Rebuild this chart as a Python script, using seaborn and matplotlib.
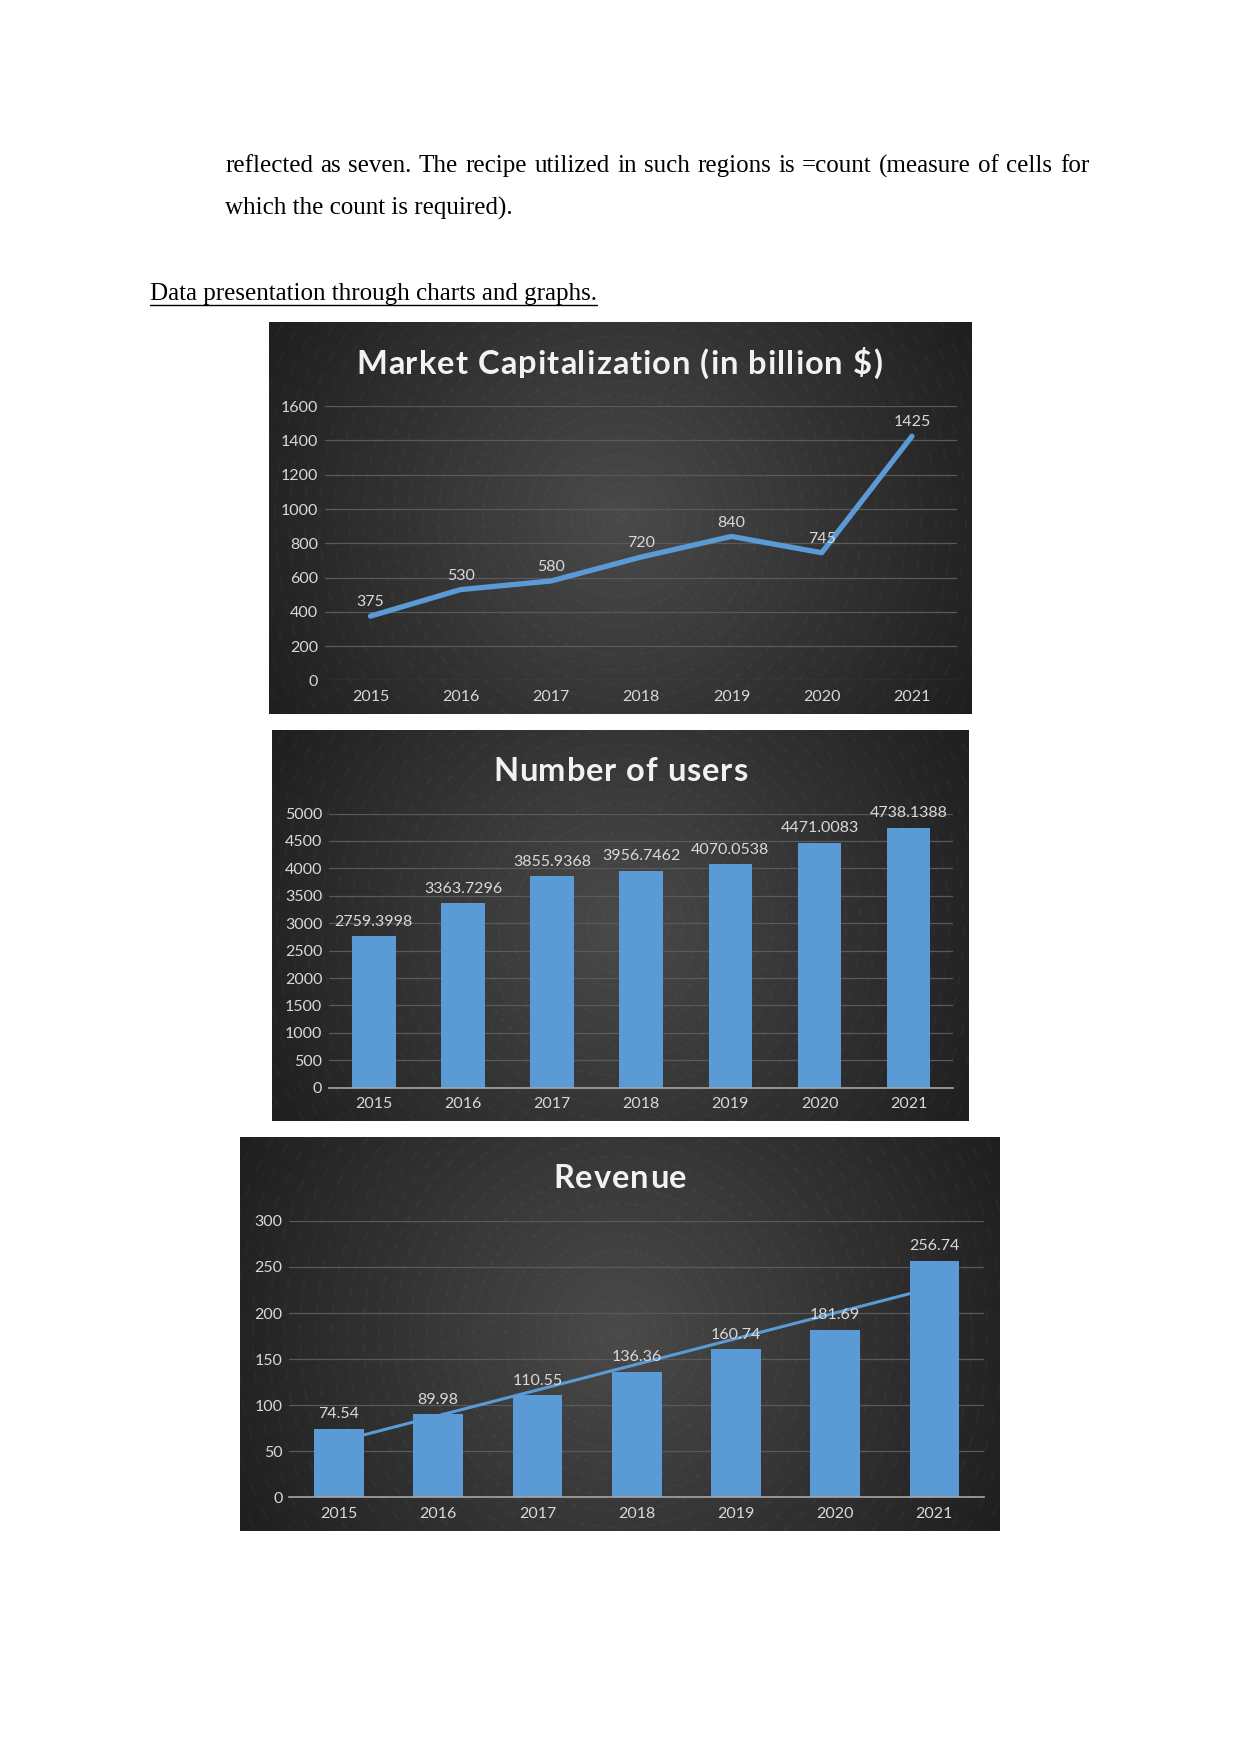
import numpy as np
import pandas as pd
import matplotlib
matplotlib.use("Agg")
import matplotlib.pyplot as plt
import seaborn as sns

# ---------------- data ----------------
years = ["2015", "2016", "2017", "2018", "2019", "2020", "2021"]
market_cap = [375, 530, 580, 720, 840, 745, 1425]
market_cap_labels = ["375", "530", "580", "720", "840", "745", "1425"]
users = [2759.3998, 3363.7296, 3855.9368, 3956.7462, 4070.0538, 4471.0083, 4738.1388]
users_labels = ["2759.3998", "3363.7296", "3855.9368", "3956.7462", "4070.0538", "4471.0083", "4738.1388"]
revenue = [74.54, 89.98, 110.55, 136.36, 160.74, 181.69, 256.74]
revenue_labels = ["74.54", "89.98", "110.55", "136.36", "160.74", "181.69", "256.74"]

titles = ["Market Capitalization (in billion $)", "Number of users", "Revenue"]
yticks_mc = [0, 200, 400, 600, 800, 1000, 1200, 1400, 1600]
yticks_users = [0, 500, 1000, 1500, 2000, 2500, 3000, 3500, 4000, 4500, 5000]
yticks_rev = [0, 50, 100, 150, 200, 250, 300]

para_line1 = "reflected as seven. The recipe utilized in such regions is =count (measure of cells for"
para_line2 = "which the count is required)."
heading = "Data presentation through charts and graphs."

# ---------------- style ----------------
sns.set_theme(style="white")
plt.rcParams['font.family'] = ['Lato', 'DejaVu Sans']

W, H = 1241, 1754
fig = plt.figure(figsize=(W / 100, H / 100), dpi=100)
fig.patch.set_facecolor("white")
renderer = fig.canvas.get_renderer()

BLUE = "#5b9bd5"
LABEL = "#d9d9d9"
GRID = "#5a5a5a"


def fx(px):
    return px / W


def fy(py):
    return 1 - py / H


def box_axes(left, top, right, bottom):
    return [fx(left), fy(bottom), fx(right - left), (bottom - top) / H]


def text_width(s, **kw):
    t = fig.text(0, 0, s, **kw)
    w = t.get_window_extent(renderer).width
    t.remove()
    return w


def justified(words_line, left, right, ypx, **kw):
    words = words_line.split(" ")
    widths = [text_width(w, **kw) for w in words]
    gap = (right - left - sum(widths)) / (len(words) - 1)
    x = left
    for w, wd in zip(words, widths):
        fig.text(fx(x), fy(ypx), w, ha="left", va="center", **kw)
        x += wd + gap


def tracked(s, cx, cy, track, **kw):
    # ink-left position of each glyph inside the full string, plus tracking
    def ink_left(i):
        return text_width("|" + s[:i + 1], **kw) - text_width(s[i], **kw)

    idx = [i for i, ch in enumerate(s) if ch != " "]
    base = ink_left(0)
    pos = {i: ink_left(i) - base + track * i for i in idx}
    last = idx[-1]
    full = pos[last] + text_width(s[last], **kw)
    x0 = cx - full / 2
    for i in idx:
        fig.text(fx(x0 + pos[i]), fy(cy), s[i], ha="left", va="center", zorder=3, **kw)


def background(rect):
    bg = fig.add_axes(rect, zorder=0)
    ny, nx = 400, 700
    yy, xx = np.mgrid[-1:1:ny * 1j, -1:1:nx * 1j]
    asp = rect[2] * W / (rect[3] * H)
    r = np.sqrt((xx * asp) ** 2 + yy ** 2) / np.sqrt(asp ** 2 + 1)
    val = 0.29 - 0.17 * r
    ang = np.arctan2(yy, xx * asp)
    rings = 0.022 * ((np.sin(r * 170) > 0.9) & (np.sin(ang * 90) > 0))
    img = np.clip(val + rings, 0, 1)
    bg.imshow(np.dstack([img, img, img]), aspect="auto", extent=[0, 1, 0, 1])
    bg.set_axis_off()
    return bg


def style_axes(ax, yticks, axis_line):
    ax.set_facecolor("none")
    ax.set_ylim(yticks[0], yticks[-1])
    ax.set_yticks(yticks)
    ax.set_yticklabels([str(t) for t in yticks])
    ax.set_xlim(-0.5, 6.5)
    ax.set_xticks(range(len(years)))
    ax.set_xticklabels(years)
    ax.set_xlabel("")
    ax.set_ylabel("")
    for s in ax.spines.values():
        s.set_visible(False)
    if axis_line:
        ax.spines["bottom"].set_visible(True)
        ax.spines["bottom"].set_color("#a6a6a6")
        ax.spines["bottom"].set_linewidth(1.2)
    ax.grid(axis="y", color=GRID, linewidth=0.9)
    ax.set_axisbelow(True)
    ax.tick_params(axis="both", length=0, colors=LABEL, labelsize=11.5)
    ax.tick_params(axis="y", pad=5)
    ax.tick_params(axis="x", pad=7)


serif = dict(family="Liberation Serif", fontsize=18, color="black")
title_kw = dict(color="#f2f2f2", fontsize=23.5, fontweight="bold")

# ---------------- text ----------------
justified(para_line1, 225, 1089, 166, **serif)
fig.text(fx(225), fy(208), para_line2, va="center", ha="left", **serif)
ht = fig.text(fx(150), fy(294), heading, va="center", ha="left", **serif)

# ---------------- chart 1: market cap line ----------------
r1 = box_axes(268.6, 322.3, 971.3, 714.0)
background(r1)
ax1 = fig.add_axes(box_axes(325.3, 406.2, 957.1, 680.4), zorder=2)
df1 = pd.DataFrame({"x": np.arange(len(years)), "y": market_cap})
sns.lineplot(data=df1, x="x", y="y", ax=ax1, color=BLUE, linewidth=3.8,
             solid_capstyle="round", solid_joinstyle="round")
style_axes(ax1, yticks_mc, False)
for i, (v, lab) in enumerate(zip(market_cap, market_cap_labels)):
    ax1.annotate(lab, (i, v), xytext=(0, 10), textcoords="offset points",
                 ha="center", va="center", color=LABEL, fontsize=11.5)
tracked(titles[0], 619, 364, 1.05, **title_kw)

# ---------------- chart 2: users bars ----------------
r2 = box_axes(271.9, 729.6, 968.0, 1121.3)
background(r2)
ax2 = fig.add_axes(box_axes(329.2, 813.5, 953.2, 1087.7), zorder=2)
df2 = pd.DataFrame({"year": years, "users": users})
sns.barplot(data=df2, x="year", y="users", ax=ax2, color=BLUE, saturation=1,
            width=0.49, edgecolor="none")
style_axes(ax2, yticks_users, True)
for i, (v, lab) in enumerate(zip(users, users_labels)):
    ax2.annotate(lab, (i, v), xytext=(0, 10.5), textcoords="offset points",
                 ha="center", va="center", color=LABEL, fontsize=11.5)
tracked(titles[1], 620, 771.5, 0.9, **title_kw)

# ---------------- chart 3: revenue bars + trendline ----------------
r3 = box_axes(239.5, 1137.0, 999.3, 1530.8)
background(r3)
ax3 = fig.add_axes(box_axes(289.4, 1220.9, 984.0, 1497.3), zorder=2)
df3 = pd.DataFrame({"year": years, "revenue": revenue})
sns.barplot(data=df3, x="year", y="revenue", ax=ax3, color=BLUE, saturation=1,
            width=0.5, edgecolor="none")
xi = np.arange(len(years))
slope, icpt = np.polyfit(xi, revenue, 1)
trend = pd.DataFrame({"x": xi, "y": slope * xi + icpt})
sns.lineplot(data=trend, x="x", y="y", ax=ax3, color=BLUE, linewidth=2.2)
style_axes(ax3, yticks_rev, True)
for i, (v, lab) in enumerate(zip(revenue, revenue_labels)):
    ax3.annotate(lab, (i, v), xytext=(0, 10.5), textcoords="offset points",
                 ha="center", va="center", color=LABEL, fontsize=11.5)
tracked(titles[2], 620, 1179, 1.0, **title_kw)

# underline heading
fig.canvas.draw()
bb = ht.get_window_extent(fig.canvas.get_renderer())
fig.add_artist(plt.Line2D([bb.x0 / W, bb.x1 / W], [fy(305), fy(305)],
                          transform=fig.transFigure, color="black", linewidth=1.0))

fig.savefig("out.png", dpi=100, facecolor="white")
